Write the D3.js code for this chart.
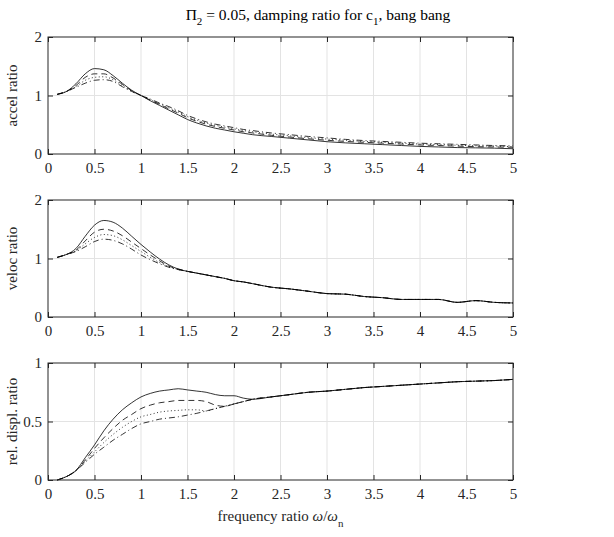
<!DOCTYPE html>
<html>
<head>
<meta charset="utf-8">
<script src="https://cdn.jsdelivr.net/npm/d3@7"></script>
<style>
  body { margin: 0; background: #fff; }
  svg text { font-family: "Liberation Serif", "Times New Roman", serif; }
</style>
</head>
<body>
<svg id="chart" width="614" height="537"></svg>
<script>
// frequency ratio samples (shared by every curve)
const freq = [0.1,0.2,0.3,0.4,0.5,0.6,0.7,0.8,0.9,1.0,1.1,1.2,1.3,1.4,1.5,1.6,1.7,1.8,1.9,2.0,
              2.1,2.2,2.4,2.6,2.8,3.0,3.2,3.4,3.6,3.8,4.0,4.2,4.4,4.6,4.8,5.0];

// accel ratio
const accelSolid   = [1.02,1.07,1.20,1.37,1.46,1.44,1.34,1.21,1.09,1.00,0.91,0.83,0.75,0.67,0.59,0.53,0.48,0.44,0.41,0.38,
                      0.355,0.33,0.30,0.27,0.24,0.21,0.19,0.175,0.16,0.145,0.13,0.12,0.11,0.105,0.10,0.09];
const accelDashed  = [1.02,1.07,1.17,1.31,1.37,1.37,1.30,1.19,1.08,1.00,0.92,0.85,0.77,0.70,0.62,0.56,0.51,0.47,0.44,0.41,
                      0.38,0.36,0.32,0.29,0.26,0.235,0.215,0.20,0.185,0.17,0.155,0.145,0.135,0.125,0.12,0.115];
const accelDotted  = [1.02,1.07,1.15,1.26,1.31,1.32,1.27,1.17,1.07,1.00,0.93,0.86,0.79,0.72,0.64,0.58,0.53,0.49,0.46,0.43,
                      0.40,0.38,0.34,0.31,0.28,0.255,0.235,0.215,0.20,0.185,0.17,0.16,0.15,0.14,0.135,0.125];
const accelDashDot = [1.02,1.07,1.14,1.21,1.26,1.27,1.24,1.15,1.07,1.00,0.94,0.87,0.81,0.74,0.66,0.60,0.55,0.51,0.48,0.45,
                      0.42,0.40,0.36,0.33,0.30,0.275,0.25,0.23,0.215,0.20,0.185,0.175,0.165,0.155,0.145,0.14];

// veloc ratio (all curves merge above ~1.4)
const velocTail     = [0.78,0.75,0.72,0.69,0.66,0.62,0.60,0.57,0.51,0.48,0.44,0.40,0.39,0.35,0.33,0.30,0.30,0.30,0.25,0.28,0.25,0.24];
const velocSolid    = [1.02,1.07,1.17,1.38,1.57,1.65,1.62,1.52,1.38,1.24,1.11,0.99,0.89,0.82].concat(velocTail);
const velocDashed   = [1.02,1.07,1.14,1.30,1.45,1.50,1.47,1.39,1.28,1.17,1.06,0.96,0.87,0.82].concat(velocTail);
const velocDotted   = [1.02,1.07,1.13,1.25,1.36,1.41,1.39,1.32,1.22,1.12,1.02,0.93,0.86,0.81].concat(velocTail);
const velocDashDot  = [1.02,1.07,1.12,1.20,1.29,1.33,1.31,1.25,1.16,1.06,0.98,0.91,0.85,0.81].concat(velocTail);

// rel. displ. ratio
const displDashDot = [0,0.03,0.08,0.15,0.22,0.28,0.34,0.39,0.44,0.48,0.50,0.52,0.53,0.54,0.555,0.57,0.59,0.61,0.63,0.65,
                      0.67,0.69,0.71,0.73,0.75,0.76,0.775,0.79,0.80,0.81,0.82,0.83,0.84,0.845,0.85,0.86];
const displSolid   = [0,0.03,0.08,0.19,0.30,0.42,0.52,0.60,0.66,0.71,0.74,0.76,0.77,0.78,0.77,0.76,0.75,0.73,0.72,0.72,
                      0.70,0.69].concat(displDashDot.slice(22));
const displDashed  = [0,0.03,0.08,0.17,0.27,0.36,0.44,0.51,0.56,0.61,0.64,0.66,0.67,0.68,0.68,0.68,0.67,0.64].concat(displDashDot.slice(18));
const displDotted  = [0,0.03,0.08,0.16,0.24,0.32,0.39,0.45,0.50,0.54,0.56,0.58,0.59,0.595,0.60,0.60].concat(displDashDot.slice(16));

const xTicks = [0,0.5,1,1.5,2,2.5,3,3.5,4,4.5,5];

const lineStyles = ["none", "6,4", "1,2.5", "6,3,1,3"];

const panels = [
  { label: "accel ratio",       top: 37,  yMax: 2, yTicks: [0,1,2],     series: [accelSolid, accelDashed, accelDotted, accelDashDot] },
  { label: "veloc ratio",       top: 200, yMax: 2, yTicks: [0,1,2],     series: [velocSolid, velocDashed, velocDotted, velocDashDot] },
  { label: "rel. displ. ratio", top: 363, yMax: 1, yTicks: [0,0.5,1],   series: [displSolid, displDashed, displDotted, displDashDot] }
];

const left = 48, right = 513, panelH = 117;
const serif = "'Liberation Serif', 'Times New Roman', serif";
const svg = d3.select("#chart");

const x = d3.scaleLinear().domain([0, 5]).range([left, right]);

panels.forEach(p => {
  const y = d3.scaleLinear().domain([0, p.yMax]).range([p.top + panelH, p.top]);
  const g = svg.append("g");

  // grid
  g.append("g").selectAll("line").data(xTicks.slice(1, -1)).join("line")
    .attr("x1", d => x(d)).attr("x2", d => x(d))
    .attr("y1", p.top).attr("y2", p.top + panelH)
    .attr("stroke", "#e3e3e3").attr("stroke-width", 1);
  g.append("g").selectAll("line").data(p.yTicks.slice(1, -1)).join("line")
    .attr("x1", left).attr("x2", right)
    .attr("y1", d => y(d)).attr("y2", d => y(d))
    .attr("stroke", "#e3e3e3").attr("stroke-width", 1);

  // curves
  p.series.forEach((vals, i) => {
    const line = d3.line()
      .x((d, k) => x(freq[k]))
      .y(d => y(d))
      .curve(d3.curveMonotoneX);
    g.append("path")
      .attr("d", line(vals))
      .attr("fill", "none")
      .attr("stroke", "#000")
      .attr("stroke-width", 0.8)
      .attr("stroke-dasharray", lineStyles[i]);
  });

  // axes (MATLAB style: ticks inside, box on)
  const xb = g.append("g").attr("transform", `translate(0,${p.top + panelH})`)
    .call(d3.axisBottom(x).tickValues(xTicks).tickSizeInner(-5).tickSizeOuter(0).tickPadding(8).tickFormat(d3.format("")));
  const xt = g.append("g").attr("transform", `translate(0,${p.top})`)
    .call(d3.axisTop(x).tickValues(xTicks).tickSizeInner(-5).tickSizeOuter(0).tickFormat(""));
  const yl = g.append("g").attr("transform", `translate(${left},0)`)
    .call(d3.axisLeft(y).tickValues(p.yTicks).tickSizeInner(-5).tickSizeOuter(0).tickPadding(6).tickFormat(d3.format("")));
  const yr = g.append("g").attr("transform", `translate(${right},0)`)
    .call(d3.axisRight(y).tickValues(p.yTicks).tickSizeInner(-5).tickSizeOuter(0).tickFormat(""));
  [xb, xt, yl, yr].forEach(a => {
    a.select(".domain").remove();
    a.selectAll(".tick line").attr("stroke", "#262626");
    a.selectAll(".tick text")
      .attr("fill", "#262626")
      .style("font-family", serif)
      .style("font-size", "15px");
  });

  g.append("rect")
    .attr("x", left).attr("y", p.top)
    .attr("width", right - left).attr("height", panelH)
    .attr("fill", "none").attr("stroke", "#262626").attr("stroke-width", 1);

  // y label
  svg.append("text")
    .attr("transform", `translate(17,${p.top + panelH / 2}) rotate(-90)`)
    .attr("text-anchor", "middle")
    .attr("fill", "#262626")
    .style("font-size", "15px")
    .text(p.label);
});

// title (centred on the figure)
const title = svg.append("text")
  .attr("x", 318).attr("y", 20)
  .attr("text-anchor", "middle")
  .attr("fill", "#000")
  .style("font-size", "15.5px");
title.append("tspan").text("\u03A0");
title.append("tspan").attr("dy", 5).style("font-size", "11px").text("2");
title.append("tspan").attr("dy", -5).text(" = 0.05, damping ratio for c");
title.append("tspan").attr("dy", 5).style("font-size", "11px").text("1");
title.append("tspan").attr("dy", -5).text(", bang bang");

// x label
const xlab = svg.append("text")
  .attr("x", (left + right) / 2).attr("y", 521)
  .attr("text-anchor", "middle")
  .attr("fill", "#262626")
  .style("font-size", "15px");
xlab.append("tspan").text("frequency ratio ");
xlab.append("tspan").style("font-style", "italic").text("\u03C9");
xlab.append("tspan").text("/");
xlab.append("tspan").style("font-style", "italic").text("\u03C9");
xlab.append("tspan").attr("dy", 6).style("font-size", "11px").text("n");
</script>
</body>
</html>
